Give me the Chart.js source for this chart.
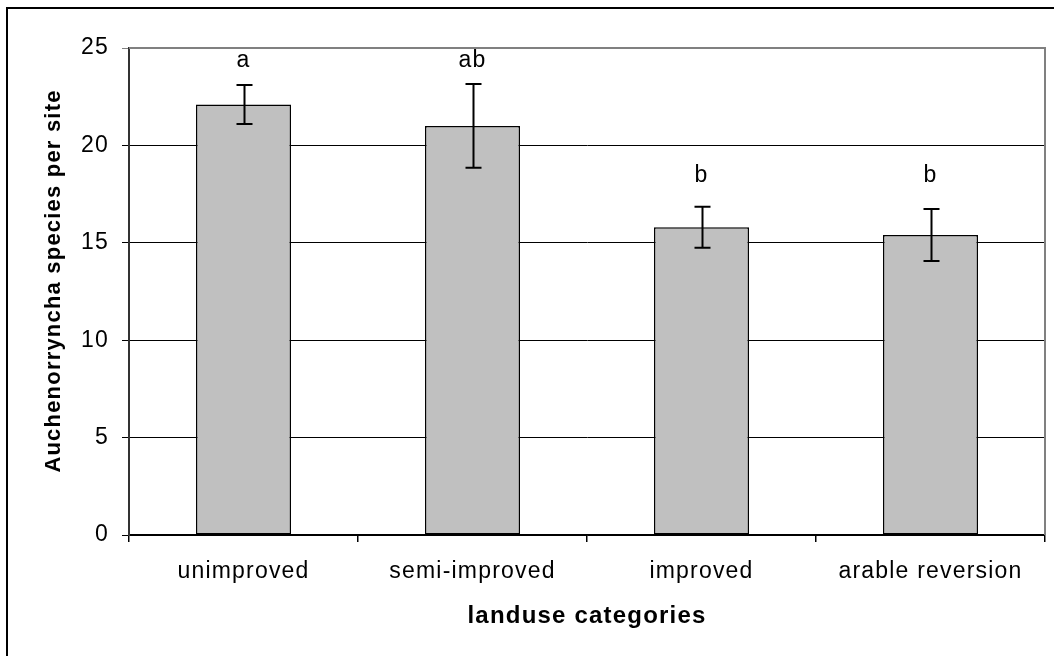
<!DOCTYPE html>
<html>
<head>
<meta charset="utf-8">
<script src="https://cdn.jsdelivr.net/npm/chart.js@4.4.1/dist/chart.umd.min.js"></script>
<style>
  html, body { margin: 0; padding: 0; background: #fff; }
  #wrap { width: 1054px; height: 656px; position: relative; }
</style>
</head>
<body>
<div id="wrap"><canvas id="chart" width="1054" height="656"></canvas></div>
<script>
// Mean Auchenorrhyncha species richness per site by landuse category
const categories = ['unimproved', 'semi-improved', 'improved', 'arable reversion'];
const meanSpecies = [22.1, 21.0, 15.8, 15.4];
const errorSpecies = [1.0, 2.15, 1.05, 1.33];
const groupLetters = ['a', 'ab', 'b', 'b'];
const letterLevel = [24.0, 24.0, 18.1, 18.1];
const yTicks = [0, 5, 10, 15, 20, 25];

const FONT = '"Liberation Sans", Arial, Helvetica, sans-serif';
const SPACING = '1.2px';

// Outer frame, text spacing and the grey plot-area border
const framePlugin = {
  id: 'frame',
  beforeDraw(chart) {
    const ctx = chart.ctx;
    ctx.save();
    ctx.fillStyle = '#ffffff';
    ctx.fillRect(0, 0, chart.width, chart.height);
    ctx.strokeStyle = '#000000';
    ctx.lineWidth = 2;
    ctx.beginPath();
    ctx.moveTo(7, chart.height + 5);
    ctx.lineTo(7, 8);
    ctx.lineTo(chart.width + 5, 8);
    ctx.stroke();
    ctx.restore();
    ctx.letterSpacing = SPACING;
  },
  afterDatasetsDraw(chart) {
    const { ctx, chartArea: a } = chart;
    ctx.save();
    ctx.strokeStyle = '#808080';
    ctx.lineWidth = 2;
    ctx.beginPath();
    ctx.moveTo(a.left, a.top);
    ctx.lineTo(a.right, a.top);
    ctx.lineTo(a.right, a.bottom);
    ctx.stroke();
    ctx.restore();
  }
};

// Error bars and significance letters
const errorPlugin = {
  id: 'errorBars',
  afterDatasetsDraw(chart) {
    const ctx = chart.ctx;
    const x = chart.scales.x, y = chart.scales.y;
    ctx.save();
    ctx.strokeStyle = '#000000';
    ctx.lineWidth = 2;
    categories.forEach((c, i) => {
      const cx = Math.round(x.getPixelForValue(i)) + 0.5;
      const yHi = y.getPixelForValue(meanSpecies[i] + errorSpecies[i]);
      const yLo = y.getPixelForValue(meanSpecies[i] - errorSpecies[i]);
      ctx.beginPath();
      ctx.moveTo(cx, yHi); ctx.lineTo(cx, yLo);
      ctx.moveTo(cx - 8, yHi); ctx.lineTo(cx + 8, yHi);
      ctx.moveTo(cx - 8, yLo); ctx.lineTo(cx + 8, yLo);
      ctx.stroke();
    });
    ctx.fillStyle = '#000000';
    ctx.font = '23px ' + FONT;
    ctx.letterSpacing = SPACING;
    ctx.textAlign = 'center';
    ctx.textBaseline = 'alphabetic';
    categories.forEach((c, i) => {
      ctx.fillText(groupLetters[i], x.getPixelForValue(i), y.getPixelForValue(letterLevel[i]));
    });
    ctx.restore();
  }
};

// Axis titles
const titlePlugin = {
  id: 'axisTitles',
  afterDraw(chart) {
    const ctx = chart.ctx;
    const a = chart.chartArea;
    ctx.save();
    ctx.fillStyle = '#000000';
    ctx.letterSpacing = SPACING;
    ctx.textAlign = 'center';
    ctx.textBaseline = 'alphabetic';
    ctx.font = 'bold 24px ' + FONT;
    ctx.fillText('landuse categories', (a.left + a.right) / 2, 623);
    ctx.font = 'bold 22px ' + FONT;
    ctx.translate(60, 281);
    ctx.rotate(-Math.PI / 2);
    ctx.fillText('Auchenorryncha species per site', 0, 0);
    ctx.restore();
  }
};

new Chart(document.getElementById('chart'), {
  type: 'bar',
  data: {
    labels: categories,
    datasets: [{
      data: meanSpecies,
      backgroundColor: '#c0c0c0',
      borderColor: '#000000',
      borderWidth: 1.5,
      borderSkipped: false,
      barPercentage: 0.415,
      categoryPercentage: 1.0
    }]
  },
  options: {
    responsive: false,
    animation: false,
    devicePixelRatio: 1,
    layout: { padding: { left: 0, top: 48, right: 9, bottom: 0 } },
    plugins: { legend: { display: false }, tooltip: { enabled: false } },
    scales: {
      x: {
        offset: true,
        grid: {
          display: true, offset: true, drawOnChartArea: false,
          tickLength: 7, color: '#000000', lineWidth: 1.5
        },
        border: { display: true, color: '#000000', width: 1.5 },
        ticks: { color: '#000000', font: { family: FONT, size: 23 }, padding: 16, maxRotation: 0 },
        afterFit(scale) { scale.height = 121; }
      },
      y: {
        min: 0, max: 25,
        afterBuildTicks(scale) { scale.ticks = yTicks.map(v => ({ value: v })); },
        grid: {
          display: true, drawOnChartArea: true, tickLength: 7,
          color: ctx => (ctx.tick && ctx.tick.value === 25) ? '#808080' : '#000000',
          lineWidth: 1
        },
        border: { display: true, color: '#333333', width: 2 },
        ticks: { color: '#000000', font: { family: FONT, size: 23 }, padding: 13 },
        afterFit(scale) { scale.width = 129; }
      }
    }
  },
  plugins: [framePlugin, errorPlugin, titlePlugin]
});
</script>
</body>
</html>
